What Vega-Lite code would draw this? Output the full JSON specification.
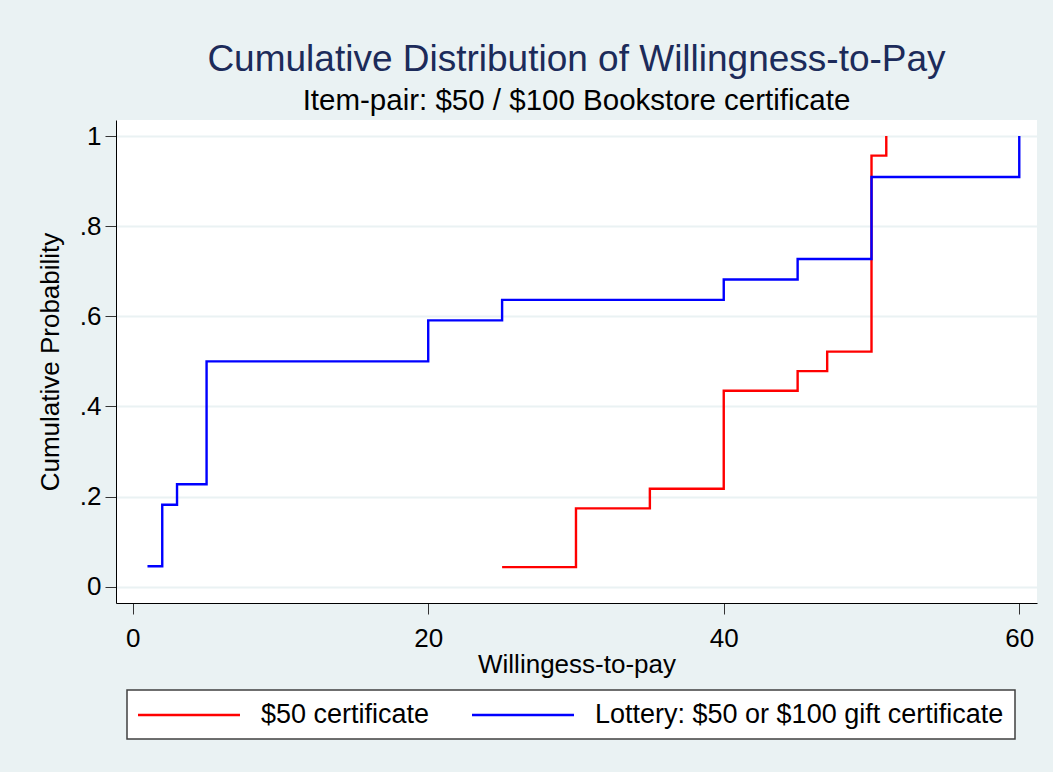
{
  "$schema": "https://vega.github.io/schema/vega-lite/v6.json",
  "width": 921,
  "height": 483,
  "autosize": {"type": "none"},
  "padding": {"left": 116, "top": 120, "right": 16, "bottom": 169},
  "background": "#eaf2f3",
  "title": {
    "text": "Cumulative Distribution of Willingness-to-Pay",
    "subtitle": "Item-pair: $50 / $100 Bookstore certificate",
    "anchor": "middle",
    "frame": "group",
    "font": "Liberation Sans",
    "fontSize": 37,
    "fontWeight": "normal",
    "color": "#1c2b5a",
    "subtitleFont": "Liberation Sans",
    "subtitleFontSize": 29.5,
    "subtitleColor": "#000000",
    "subtitlePadding": 8,
    "offset": 4
  },
  "data": {
    "values": [
      {"wtp": 25, "prob": 0.0435, "item": "$50 certificate"},
      {"wtp": 30, "prob": 0.1739, "item": "$50 certificate"},
      {"wtp": 35, "prob": 0.2174, "item": "$50 certificate"},
      {"wtp": 40, "prob": 0.4348, "item": "$50 certificate"},
      {"wtp": 45, "prob": 0.4783, "item": "$50 certificate"},
      {"wtp": 47, "prob": 0.5217, "item": "$50 certificate"},
      {"wtp": 50, "prob": 0.9565, "item": "$50 certificate"},
      {"wtp": 51, "prob": 1.0, "item": "$50 certificate"},
      {"wtp": 1, "prob": 0.0455, "item": "Lottery: $50 or $100 gift certificate"},
      {"wtp": 2, "prob": 0.1818, "item": "Lottery: $50 or $100 gift certificate"},
      {"wtp": 3, "prob": 0.2273, "item": "Lottery: $50 or $100 gift certificate"},
      {"wtp": 5, "prob": 0.5, "item": "Lottery: $50 or $100 gift certificate"},
      {"wtp": 20, "prob": 0.5909, "item": "Lottery: $50 or $100 gift certificate"},
      {"wtp": 25, "prob": 0.6364, "item": "Lottery: $50 or $100 gift certificate"},
      {"wtp": 40, "prob": 0.6818, "item": "Lottery: $50 or $100 gift certificate"},
      {"wtp": 45, "prob": 0.7273, "item": "Lottery: $50 or $100 gift certificate"},
      {"wtp": 50, "prob": 0.9091, "item": "Lottery: $50 or $100 gift certificate"},
      {"wtp": 60, "prob": 1.0, "item": "Lottery: $50 or $100 gift certificate"}
    ]
  },
  "mark": {"type": "line", "interpolate": "step-after", "strokeWidth": 2.4},
  "encoding": {
    "x": {
      "field": "wtp",
      "type": "quantitative",
      "scale": {"domain": [-1.13, 61.2], "nice": false, "zero": false},
      "axis": {
        "title": "Willingess-to-pay",
        "values": [0, 20, 40, 60],
        "grid": false,
        "titlePadding": 0
      }
    },
    "y": {
      "field": "prob",
      "type": "quantitative",
      "scale": {"domain": [-0.036, 1.0355], "nice": false, "zero": false},
      "axis": {
        "title": "Cumulative Probability",
        "values": [0, 0.2, 0.4, 0.6, 0.8, 1],
        "labelExpr": "datum.value == 0 ? '0' : datum.value == 1 ? '1' : replace(format(datum.value, '.1f'), '0.', '.')",
        "grid": true,
        "titlePadding": 16
      }
    },
    "color": {
      "field": "item",
      "type": "nominal",
      "scale": {
        "domain": ["$50 certificate", "Lottery: $50 or $100 gift certificate"],
        "range": ["#ff0000", "#0000ff"]
      },
      "legend": {
        "title": null,
        "orient": "none",
        "direction": "horizontal",
        "legendX": 11,
        "legendY": 570
      }
    }
  },
  "config": {
    "view": {"fill": "#ffffff", "stroke": null},
    "axis": {
      "labelFont": "Liberation Sans",
      "titleFont": "Liberation Sans",
      "labelFontSize": 26,
      "titleFontSize": 26,
      "titleFontWeight": "normal",
      "labelColor": "#000000",
      "titleColor": "#000000",
      "domainColor": "#000000",
      "domainWidth": 1,
      "tickColor": "#333333",
      "tickWidth": 1,
      "tickSize": 11,
      "gridColor": "#eaf2f3",
      "gridWidth": 2
    },
    "axisX": {"labelPadding": 11},
    "axisY": {"labelPadding": 4},
    "legend": {
      "labelFont": "Liberation Sans",
      "labelFontSize": 27,
      "labelColor": "#000000",
      "labelLimit": 0,
      "symbolType": "M-4,0H4",
      "symbolSize": 650,
      "symbolStrokeWidth": 2.5,
      "symbolOffset": 37,
      "labelOffset": 58,
      "columnPadding": 37,
      "padding": 11,
      "fillColor": "#ffffff",
      "strokeColor": "#404040",
      "strokeWidth": 1.5
    }
  }
}
